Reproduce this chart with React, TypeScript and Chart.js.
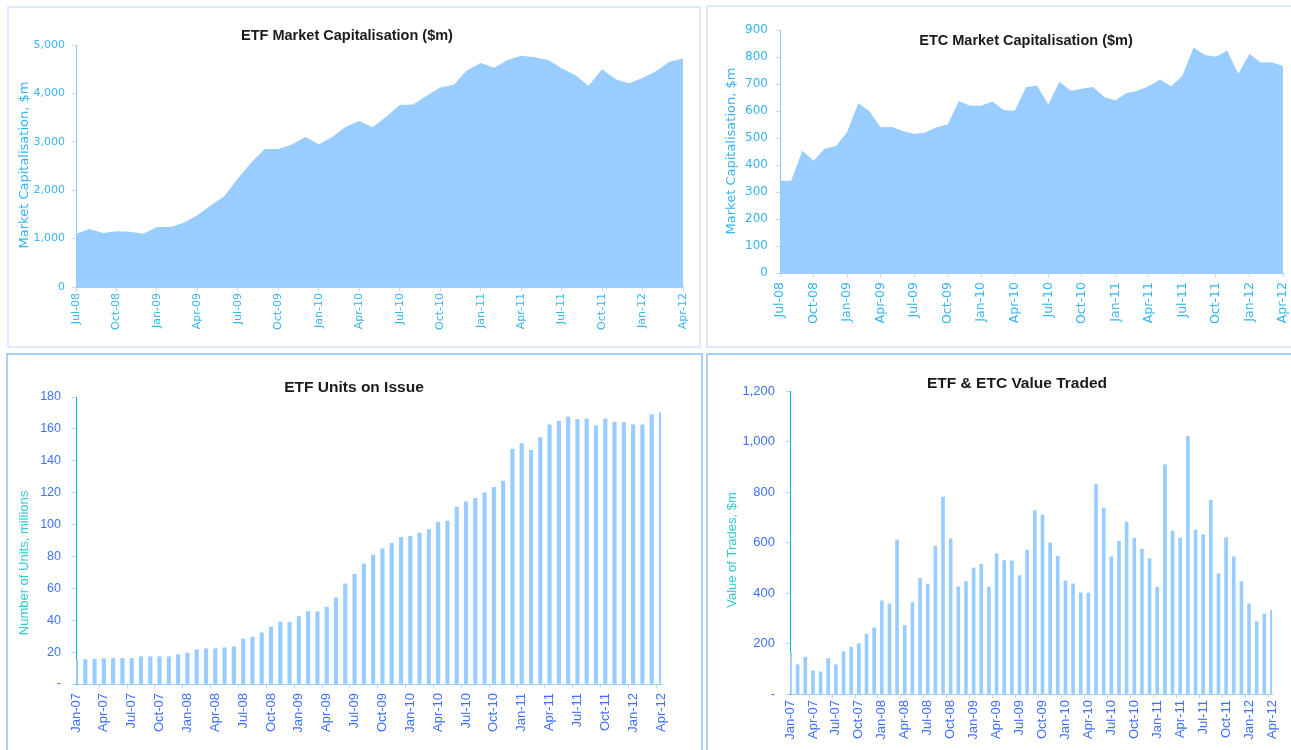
import React, { useEffect, useRef } from 'react';
import { Chart, registerables } from 'chart.js';

Chart.register(...registerables);

// ---------- DATA ----------
const capMonths = [
  'Jul-08', 'Aug-08', 'Sep-08', 'Oct-08', 'Nov-08', 'Dec-08',
  'Jan-09', 'Feb-09', 'Mar-09', 'Apr-09', 'May-09', 'Jun-09', 'Jul-09', 'Aug-09', 'Sep-09', 'Oct-09', 'Nov-09', 'Dec-09',
  'Jan-10', 'Feb-10', 'Mar-10', 'Apr-10', 'May-10', 'Jun-10', 'Jul-10', 'Aug-10', 'Sep-10', 'Oct-10', 'Nov-10', 'Dec-10',
  'Jan-11', 'Feb-11', 'Mar-11', 'Apr-11', 'May-11', 'Jun-11', 'Jul-11', 'Aug-11', 'Sep-11', 'Oct-11', 'Nov-11', 'Dec-11',
  'Jan-12', 'Feb-12', 'Mar-12', 'Apr-12',
];

const etfMarketCap = [
  1100, 1200, 1115, 1150, 1140, 1100,
  1240, 1240, 1330, 1480, 1690, 1875, 2240, 2570, 2850, 2850, 2945, 3100,
  2950, 3100, 3310, 3430, 3300, 3520, 3760, 3770, 3950, 4120, 4180, 4480,
  4630, 4530, 4690, 4780, 4745, 4690, 4520, 4380, 4160, 4500, 4290, 4210,
  4320, 4460, 4655, 4720,
];

const etcMarketCap = [
  342, 342, 453, 416, 460, 470,
  521, 629, 599, 540, 541, 526, 515, 520, 540, 550, 637, 619,
  619, 635, 604, 601, 688, 694, 624, 708, 675, 682, 689, 652,
  639, 667, 675, 693, 717, 692, 731, 835, 807, 801, 824, 738,
  811, 780, 781, 767,
];

const tradeMonths = [
  'Jan-07', 'Feb-07', 'Mar-07', 'Apr-07', 'May-07', 'Jun-07', 'Jul-07', 'Aug-07', 'Sep-07', 'Oct-07', 'Nov-07', 'Dec-07',
  'Jan-08', 'Feb-08', 'Mar-08', 'Apr-08', 'May-08', 'Jun-08', 'Jul-08', 'Aug-08', 'Sep-08', 'Oct-08', 'Nov-08', 'Dec-08',
  'Jan-09', 'Feb-09', 'Mar-09', 'Apr-09', 'May-09', 'Jun-09', 'Jul-09', 'Aug-09', 'Sep-09', 'Oct-09', 'Nov-09', 'Dec-09',
  'Jan-10', 'Feb-10', 'Mar-10', 'Apr-10', 'May-10', 'Jun-10', 'Jul-10', 'Aug-10', 'Sep-10', 'Oct-10', 'Nov-10', 'Dec-10',
  'Jan-11', 'Feb-11', 'Mar-11', 'Apr-11', 'May-11', 'Jun-11', 'Jul-11', 'Aug-11', 'Sep-11', 'Oct-11', 'Nov-11', 'Dec-11',
  'Jan-12', 'Feb-12', 'Mar-12', 'Apr-12',
];

const etfUnitsOnIssue = [
  15.2, 15.3, 15.6, 15.9, 16, 16, 16, 17.1, 17.1, 17.1, 17.1, 18.4,
  19.4, 21.5, 22.1, 22.1, 22.7, 23.4, 28.2, 29.4, 32.1, 35.7, 38.8, 38.8,
  42.3, 45.5, 45.3, 48.2, 54, 62.8, 68.8, 75.3, 80.9, 84.7, 88.2, 91.8,
  92.6, 94.7, 96.8, 101.4, 102.2, 111, 114.3, 116.4, 119.9, 123.3, 127.2, 147.3,
  150.8, 146.6, 154.6, 162.5, 164.8, 167.5, 166, 166.3, 161.9, 166.3, 164.2, 164,
  162.5, 162.5, 169, 170.2,
];

const valueTraded = [
  169, 116, 146, 92, 88, 140, 116, 167, 186, 199, 237, 262,
  369, 357, 610, 271, 362, 458, 435, 586, 780, 615, 424, 445,
  499, 514, 424, 555, 528, 527, 469, 570, 726, 710, 599, 545,
  448, 436, 400, 400, 831, 736, 543, 605, 681, 618, 573, 536,
  423, 908, 645, 618, 1021, 649, 631, 767, 476, 619, 543, 445,
  357, 286, 317, 332,
];

const titles = {
  etfCap: 'ETF Market Capitalisation ($m)',
  etcCap: 'ETC Market Capitalisation ($m)',
  units: 'ETF Units on Issue',
  traded: 'ETF & ETC Value Traded',
};
const axisTitles = {
  cap: 'Market Capitalisation, $m',
  units: 'Number of Units, millions',
  traded: 'Value of Trades, $m',
};

// ---------- STYLE ----------
const FILL = '#99ccff';
const TOP_TEXT = '#36b4f0';
const BOTTOM_TICK = '#3f6fff';
const BOTTOM_TITLE = '#36c8d0';
const TITLE_COLOR = '#1a1a1a';
const ARIAL = '"Liberation Sans", Arial, sans-serif';
const DEJAVU = '"DejaVu Sans", Verdana, sans-serif';

type TextItem = { text: string; x: number; y: number; font: string; color: string; rotate?: number };

function textPlugin(items: TextItem[]) {
  return {
    id: 'panelText',
    afterDraw(chart: any) {
      const ctx = chart.ctx;
      items.forEach((it) => {
        ctx.save();
        ctx.translate(it.x, it.y);
        if (it.rotate) ctx.rotate(it.rotate);
        ctx.font = it.font;
        ctx.fillStyle = it.color;
        ctx.textAlign = 'center';
        ctx.textBaseline = 'middle';
        ctx.fillText(it.text, 0, 0);
        ctx.restore();
      });
    },
  };
}

function xAxis(o: { color: string; font: any; padding: number; height: number; border: string; tick: string }) {
  return {
    type: 'category',
    offset: false,
    grid: {
      display: true,
      drawOnChartArea: false,
      drawTicks: true,
      tickLength: 4,
      color: (c: any) => (c.index % 3 === 0 ? o.tick : 'rgba(0,0,0,0)'),
    },
    border: { display: true, color: o.border, width: 1 },
    ticks: {
      autoSkip: false,
      minRotation: 90,
      maxRotation: 90,
      padding: o.padding,
      color: o.color,
      font: o.font,
      callback: function (this: any, v: any, i: number) {
        return i % 3 === 0 ? this.getLabelForValue(v) : '';
      },
    },
    afterFit: (s: any) => {
      s.height = o.height;
    },
  };
}

function yAxis(o: {
  max: number; step: number; color: string; font: any; padding: number; width: number;
  border: string; tick: string; zeroDash: boolean; z?: number;
}) {
  return {
    min: 0,
    max: o.max,
    z: o.z || 0,
    grid: { display: true, drawOnChartArea: false, drawTicks: true, tickLength: 4, color: o.tick },
    border: { display: true, color: o.border, width: 1 },
    ticks: {
      stepSize: o.step,
      padding: o.padding,
      color: o.color,
      font: o.font,
      callback: (v: any) => (v === 0 ? (o.zeroDash ? '-' : '0') : Number(v).toLocaleString('en-US')),
    },
    afterFit: (s: any) => {
      s.width = o.width;
    },
  };
}

function buildEtfCap() {
  return {
    type: 'line',
    data: {
      labels: capMonths,
      datasets: [{
        data: etfMarketCap, fill: 'origin', backgroundColor: FILL, borderWidth: 0,
        borderColor: FILL, pointRadius: 0, tension: 0,
      }],
    },
    options: {
      responsive: false, animation: false,
      layout: { padding: { left: 0, top: 45, right: 17, bottom: 0 } },
      plugins: { legend: { display: false }, tooltip: { enabled: false }, title: { display: false } },
      scales: {
        x: xAxis({ color: TOP_TEXT, font: { family: DEJAVU, size: 11 }, padding: 2, height: 63, border: '#9fd0ff', tick: '#c6dcf2' }),
        y: yAxis({ max: 5000, step: 1000, color: TOP_TEXT, font: { family: DEJAVU, size: 11 }, padding: 7, width: 76, border: '#8fc6ff', tick: '#c6dcf2', zeroDash: false }),
      },
    },
    plugins: [textPlugin([
      { text: titles.etfCap, x: 347, y: 36, font: `bold 14.5px ${ARIAL}`, color: TITLE_COLOR },
      { text: axisTitles.cap, x: 24.5, y: 165, font: `13px ${DEJAVU}`, color: TOP_TEXT, rotate: -Math.PI / 2 },
    ])],
  };
}

function buildEtcCap() {
  return {
    type: 'line',
    data: {
      labels: capMonths,
      datasets: [{
        data: etcMarketCap, fill: 'origin', backgroundColor: FILL, borderWidth: 0,
        borderColor: FILL, pointRadius: 0, tension: 0,
      }],
    },
    options: {
      responsive: false, animation: false,
      layout: { padding: { left: 0, top: 30, right: 37, bottom: 0 } },
      plugins: { legend: { display: false }, tooltip: { enabled: false }, title: { display: false } },
      scales: {
        x: xAxis({ color: TOP_TEXT, font: { family: DEJAVU, size: 12.5 }, padding: 5, height: 77, border: '#9fd0ff', tick: '#c6dcf2' }),
        y: yAxis({ max: 900, step: 100, color: TOP_TEXT, font: { family: DEJAVU, size: 12 }, padding: 8, width: 80, border: '#8fc6ff', tick: '#c6dcf2', zeroDash: false }),
      },
    },
    plugins: [textPlugin([
      { text: titles.etcCap, x: 326, y: 41, font: `bold 14.5px ${ARIAL}`, color: TITLE_COLOR },
      { text: axisTitles.cap, x: 32, y: 151, font: `13px ${DEJAVU}`, color: TOP_TEXT, rotate: -Math.PI / 2 },
    ])],
  };
}

function buildUnits() {
  return {
    type: 'bar',
    data: {
      labels: tradeMonths,
      datasets: [{ data: etfUnitsOnIssue, backgroundColor: FILL, borderWidth: 0, barThickness: 3.5, clip: 0 }],
    },
    options: {
      responsive: false, animation: false,
      layout: { padding: { left: 0, top: 47, right: 39, bottom: 0 } },
      plugins: { legend: { display: false }, tooltip: { enabled: false }, title: { display: false } },
      scales: {
        x: xAxis({ color: BOTTOM_TICK, font: { family: ARIAL, size: 13 }, padding: 5, height: 66, border: '#99ccff', tick: '#b9d8f5' }),
        y: yAxis({ max: 180, step: 20, color: BOTTOM_TICK, font: { family: ARIAL, size: 12.5 }, padding: 11, width: 76, border: '#00b0f0', tick: '#b9d8f5', zeroDash: true, z: 1 }),
      },
    },
    plugins: [textPlugin([
      { text: titles.units, x: 354, y: 38, font: `bold 15.5px ${ARIAL}`, color: TITLE_COLOR },
      { text: axisTitles.units, x: 24.5, y: 213, font: `13px ${ARIAL}`, color: BOTTOM_TITLE, rotate: -Math.PI / 2 },
    ])],
  };
}

function buildTraded() {
  return {
    type: 'bar',
    data: {
      labels: tradeMonths,
      datasets: [{ data: valueTraded, backgroundColor: FILL, borderWidth: 0, barThickness: 3, clip: 0 }],
    },
    options: {
      responsive: false, animation: false,
      layout: { padding: { left: 0, top: 41, right: 48, bottom: 0 } },
      plugins: { legend: { display: false }, tooltip: { enabled: false }, title: { display: false } },
      scales: {
        x: xAxis({ color: BOTTOM_TICK, font: { family: ARIAL, size: 13 }, padding: 2, height: 56, border: '#99ccff', tick: '#b9d8f5' }),
        y: yAxis({ max: 1200, step: 200, color: BOTTOM_TICK, font: { family: ARIAL, size: 13 }, padding: 11, width: 90, border: '#00b0f0', tick: '#b9d8f5', zeroDash: true, z: 1 }),
      },
    },
    plugins: [textPlugin([
      { text: titles.traded, x: 317, y: 34, font: `bold 15.5px ${ARIAL}`, color: TITLE_COLOR },
      { text: axisTitles.traded, x: 32, y: 200, font: `13px ${ARIAL}`, color: BOTTOM_TITLE, rotate: -Math.PI / 2 },
    ])],
  };
}

function ChartCanvas(props: { left: number; top: number; width: number; height: number; build: () => any }) {
  const ref = useRef<HTMLCanvasElement | null>(null);
  useEffect(() => {
    const chart = new Chart(ref.current as HTMLCanvasElement, props.build());
    return () => chart.destroy();
  }, []);
  return (
    <canvas
      ref={ref}
      width={props.width}
      height={props.height}
      style={{ position: 'absolute', left: props.left, top: props.top, width: props.width, height: props.height }}
    />
  );
}

function PanelBox(props: { left: number; top: number; width: number; height: number; color: string; bw: number }) {
  return (
    <div
      style={{
        position: 'absolute', left: props.left, top: props.top, width: props.width, height: props.height,
        boxSizing: 'border-box', border: `${props.bw}px solid ${props.color}`,
      }}
    />
  );
}

export default function App() {
  return (
    <div style={{ position: 'absolute', left: 0, top: 0, width: 1291, height: 750, overflow: 'hidden', background: '#ffffff' }}>
      <PanelBox left={7} top={6} width={694} height={342} color="#dceafb" bw={2} />
      <PanelBox left={706} top={5} width={600} height={343} color="#dceafb" bw={2} />
      <PanelBox left={6} top={353} width={697} height={420} color="#a9d0fb" bw={2} />
      <PanelBox left={706} top={353} width={600} height={420} color="#a9d0fb" bw={2} />
      <ChartCanvas left={0} top={0} width={700} height={350} build={buildEtfCap} />
      <ChartCanvas left={700} top={0} width={620} height={350} build={buildEtcCap} />
      <ChartCanvas left={0} top={350} width={700} height={400} build={buildUnits} />
      <ChartCanvas left={700} top={350} width={620} height={400} build={buildTraded} />
    </div>
  );
}
